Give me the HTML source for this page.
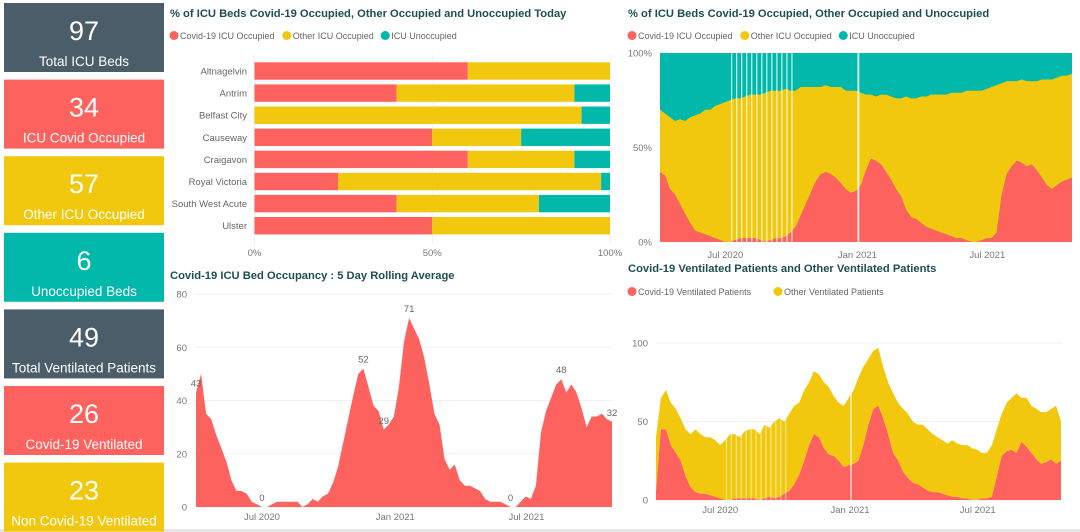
<!DOCTYPE html>
<html><head><meta charset="utf-8"><style>
body{margin:0;background:#fff;font-family:"Liberation Sans",sans-serif;}
svg{display:block}
text{font-family:"Liberation Sans",sans-serif}
</style></head><body>
<svg id="s" width="1080" height="532" viewBox="0 0 1080 532">
<rect x="0" y="0" width="1080" height="532" fill="#fff"/>
<rect x="0" y="529" width="1080" height="3" fill="#e6e6e6"/>
<g id="kpis"></g>
<g id="c1"></g><g id="c2"></g><g id="c3"></g><g id="c4"></g>
</svg>
<script>
// ---- KPI data ----
const kpiValues=["97","34","57","6","49","26","23"];
const kpiLabels=["Total ICU Beds","ICU Covid Occupied","Other ICU Occupied","Unoccupied Beds","Total Ventilated Patients","Covid-19 Ventilated","Non Covid-19 Ventilated"];
// ---- Chart 1 data ----
const hospitals=["Altnagelvin","Antrim","Belfast City","Causeway","Craigavon","Royal Victoria","South West Acute","Ulster"];
const hospCovid=[60,40,0,50,60,23.5,40,50];
const hospOther=[40,50,92,25,30,74,40,50];
const hospUnocc=[0,10,8,25,10,2.5,20,0];
const pctTicks=["0%","50%","100%"];
// ---- time series (weekly from 2020-04-01) ----
const startDate="2020-04-01";
const icuCovid5d=[43,50,35,33,27,22,17,10,6,6,5,2,1,0,0,1,2,2,2,2,2,0,1,3,2,4,5,9,15,24,33,42,50,52,45,38,36,29,31,34,45,62,71,67,63,56,46,35,31,18,14,16,10,8,8,7,6,3,2,2,2,1,0,0,2,4,3,8,28,36,41,46,48,43,46,43,37,30,34,34,35,33,32];
const icuLabelIdx=[0,13,33,37,42,62,72,82];
const pctCovid=[37,35,28,25,20,15,10,6,5,4,3,2,1,0,0,1,2,2,2,2,1,0,1,2,2,3,5,8,14,20,26,32,36,37,36,34,31,28,26,27,30,38,44,43,41,37,33,28,24,17,13,12,10,8,7,6,5,4,3,2,2,1,0,0,1,2,2,5,25,36,40,43,42,40,41,38,34,30,28,30,32,33,34];
const pctOther=[33,33,38,39,45,49,56,61,63,66,67,70,72,74,75,75,74,75,76,76,77,79,79,78,78,78,75,72,68,62,56,50,46,46,46,48,51,52,54,53,49,40,34,34,37,41,44,48,52,60,63,64,67,69,71,72,73,74,76,77,77,79,80,80,79,79,80,78,59,49,45,42,44,45,44,47,52,56,58,57,56,55,55];
const ventCovid=[5,45,45,35,30,25,15,8,5,4,4,3,2,1,0,0,1,1,1,1,1,0,1,2,1,2,4,6,10,16,25,35,42,40,33,29,28,25,21,22,23,25,35,48,58,60,52,42,30,25,18,14,11,10,8,6,5,5,4,3,2,2,1,1,0,0,1,1,2,15,28,31,32,30,37,34,30,26,23,24,26,23,25];
const ventOther=[35,20,25,27,28,27,30,34,40,38,36,37,36,34,38,42,41,39,43,44,44,42,47,44,49,50,46,49,50,46,45,40,40,40,42,43,38,37,39,43,47,53,50,42,37,37,33,33,38,37,40,41,39,38,40,39,37,35,34,33,36,34,34,34,33,32,29,29,33,30,27,31,33,38,28,31,30,32,33,32,32,37,25];
const monthTicks=["Jul 2020","Jan 2021","Jul 2021"];
const monthTickDates=["2020-07-01","2021-01-01","2021-07-01"];
const missingDays=["2020-07-09","2020-07-16","2020-07-23","2020-07-30","2020-08-06","2020-08-13","2020-08-20","2020-08-27","2020-09-03","2020-09-10","2020-09-17","2020-09-24","2020-10-01","2021-01-01","2021-01-02"];

const NS="http://www.w3.org/2000/svg";
const svg=document.getElementById('s');
function mk(tag,attrs,parent,txt){const e=document.createElementNS(NS,tag);for(const k in attrs)e.setAttribute(k,attrs[k]);if(txt!==undefined)e.textContent=txt;parent.appendChild(e);return e;}
const RED="#fd625e",YEL="#f2c80f",TEAL="#01b8aa",DARK="#4a5d68",TITLE="#1f4e4e",GRID="#efefef",LBL="#777";
const DAY=86400000;
const d0=new Date(startDate+"T00:00:00Z").getTime();
function dayOf(s){return (new Date(s+"T00:00:00Z").getTime()-d0)/DAY;}
const N=icuCovid5d.length, lastDay=(N-1)*7;

// ---- KPIs ----
const kpiColors=[DARK,RED,YEL,TEAL,DARK,RED,YEL];
const kg=document.getElementById('kpis');
for(let i=0;i<kpiValues.length;i++){
  const y=3+i*76.6;
  const g=mk('g',{},kg);
  
  
  mk('rect',{x:4,y:y,width:160,height:69,fill:kpiColors[i]},g);
  const v=mk('text',{x:84,y:y+37,'text-anchor':'middle','font-size':27,fill:'#fff'},g,kpiValues[i]);
  
  
  const l=mk('text',{x:84,y:y+63,'text-anchor':'middle','font-size':13.5,fill:'#fff'},g,kpiLabels[i]);
  
  
}

function title(g,x,y,t){const e=mk('text',{x:x,y:y,'font-size':11.2,'font-weight':'bold',fill:TITLE},g,t);
  
  }
function legend(g,x,y,items){let cx=x;items.forEach(it=>{
  const lg=mk('g',{},g);
  
  
  mk('circle',{cx:cx+4,cy:y-3.5,r:4.5,fill:it[1]},lg);
  mk('text',{x:cx+10,y:y,'font-size':9,fill:'#666'},lg,it[0]);
  cx+=10+it[0].length*4.75+3;});}

// ---- Chart 1 ----
(function(){
  const g=document.getElementById('c1');
  
  
  title(g,170,17,"% of ICU Beds Covid-19 Occupied, Other Occupied and Unoccupied Today");
  legend(g,170,39,[["Covid-19 ICU Occupied",RED],["Other ICU Occupied",YEL],["ICU Unoccupied",TEAL]]);
  const x0=254.5,x1=610;const X=v=>x0+(x1-x0)*v/100;
  pctTicks.forEach((t,i)=>{const xv=X(i*50);
    mk('line',{x1:xv,x2:xv,y1:55,y2:244,stroke:GRID},g);
    const e=mk('text',{x:xv,y:256,'text-anchor':'middle','font-size':9.5,fill:LBL},g,t);
    
    });
  hospitals.forEach((h,i)=>{const cy=71+i*22.1;const y=cy-8.7,hh=17.4;
    const l=mk('text',{x:247,y:cy+3.5,'text-anchor':'end','font-size':9.5,fill:'#666'},g,h);
    
    
    let acc=0;[[hospCovid,RED],[hospOther,YEL],[hospUnocc,TEAL]].forEach(([arr,c])=>{
      const v=arr[i];if(v>0){const r=mk('rect',{x:X(acc),y:y,width:X(acc+v)-X(acc),height:hh,fill:c},g);
      
      }
      acc+=v;});
  });
})();

function timeAxis(g,x0,x1,yLab){const X=d=>x0+(x1-x0)*d/lastDay;
  monthTicks.forEach((t,i)=>{const e=mk('text',{x:X(dayOf(monthTickDates[i])),y:yLab,'text-anchor':'middle','font-size':9.5,fill:LBL},g,t);
    
    });return X;}
function areaPath(X,Y,lower,upper){let p='';
  for(let i=0;i<N;i++){p+=(i?'L':'M')+X(i*7).toFixed(1)+','+Y(upper[i]).toFixed(1);}
  for(let i=N-1;i>=0;i--){p+='L'+X(i*7).toFixed(1)+','+Y(lower[i]).toFixed(1);}return p+'Z';}

// ---- Chart 2 ----
(function(){
  const g=document.getElementById('c2');
  
  
  title(g,628,17,"% of ICU Beds Covid-19 Occupied, Other Occupied and Unoccupied");
  legend(g,628,39,[["Covid-19 ICU Occupied",RED],["Other ICU Occupied",YEL],["ICU Unoccupied",TEAL]]);
  const x0=660,x1=1072,yT=53,yB=242;const Y=v=>yB-(yB-yT)*v/100;
  const X=timeAxis(g,x0,x1,258);
  const zero=pctCovid.map(()=>0),full=pctCovid.map(()=>100),occ=pctCovid.map((v,i)=>v+pctOther[i]);
  [[zero,full,TEAL,'area-unoccupied'],[pctCovid,occ,YEL,'area-other-occupied'],[zero,pctCovid,RED,'area-covid-occupied']].forEach(([lo,hi,c,n])=>{
    const p=mk('path',{d:areaPath(X,Y,lo,hi),fill:c},g);
    
    });
  missingDays.forEach(d=>{mk('rect',{x:X(dayOf(d)),y:yT,width:1.2,height:yB-yT,fill:'#fff',opacity:0.8},g);});
  [["100%",100],["50%",50],["0%",0]].forEach(([t,v])=>{const e=mk('text',{x:652,y:Y(v)+3.5,'text-anchor':'end','font-size':9.5,fill:LBL},g,t);
    
    });
})();

// ---- Chart 3 ----
(function(){
  const g=document.getElementById('c3');
  
  
  title(g,170,279,"Covid-19 ICU Bed Occupancy : 5 Day Rolling Average");
  const x0=196,x1=612,yT=294,yB=507;const Y=v=>yB-(yB-yT)*v/80;
  [0,20,40,60,80].forEach(v=>{mk('line',{x1:194,x2:612,y1:Y(v),y2:Y(v),stroke:GRID},g);
    const e=mk('text',{x:187,y:Y(v)+3.5,'text-anchor':'end','font-size':9.5,fill:LBL},g,String(v));
    
    });
  const X=timeAxis(g,x0,x1,520);
  const zero=icuCovid5d.map(()=>0);
  const p=mk('path',{d:areaPath(X,Y,zero,icuCovid5d),fill:RED},g);
  
  
  icuLabelIdx.forEach(i=>{const e=mk('text',{x:X(i*7),y:Y(icuCovid5d[i])-6,'text-anchor':'middle','font-size':9.5,fill:'#666'},g,String(icuCovid5d[i]));
    
    });
})();

// ---- Chart 4 ----
(function(){
  const g=document.getElementById('c4');
  
  
  title(g,628,272,"Covid-19 Ventilated Patients and Other Ventilated Patients");
  legend(g,628,295,[["Covid-19 Ventilated Patients",RED],["Other Ventilated Patients",YEL]]);
  const x0=656,x1=1061,yT=343,yB=500;const Y=v=>yB-(yB-yT)*v/100;
  [0,50,100].forEach(v=>{mk('line',{x1:656,x2:1062,y1:Y(v),y2:Y(v),stroke:GRID},g);
    const e=mk('text',{x:648,y:Y(v)+3.5,'text-anchor':'end','font-size':9.5,fill:LBL},g,String(v));
    
    });
  const X=timeAxis(g,x0,x1,513);
  const zero=ventCovid.map(()=>0),tot=ventCovid.map((v,i)=>v+ventOther[i]);
  [[ventCovid,tot,YEL,'area-other-ventilated'],[zero,ventCovid,RED,'area-covid-ventilated']].forEach(([lo,hi,c,n])=>{
    const p=mk('path',{d:areaPath(X,Y,lo,hi),fill:c},g);
    
    });
  missingDays.forEach(d=>{mk('rect',{x:X(dayOf(d)),y:yT-10,width:1.2,height:yB-yT+10,fill:'#fff',opacity:0.5},g);});
})();
</script>
</body></html>
